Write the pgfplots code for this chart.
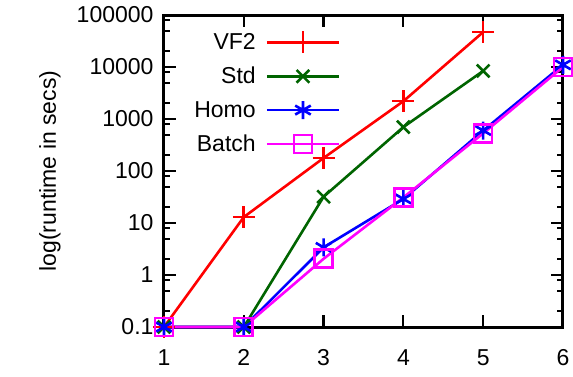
\documentclass[border=0pt]{standalone}
\usepackage{pgfplots}
\pgfplotsset{compat=1.18}
\usepackage{fontspec}
\setmainfont{Liberation Sans}
\definecolor{cred}{RGB}{255,0,0}
\definecolor{cgreen}{RGB}{0,100,0}
\definecolor{cblue}{RGB}{0,0,255}
\definecolor{cmag}{RGB}{255,0,255}
\begin{document}
\begin{tikzpicture}
\useasboundingbox (-164pt,-49pt) rectangle (409pt,327pt);
\begin{axis}[
  at={(0pt,0pt)}, anchor=south west,
  scale only axis,
  width=399pt, height=312pt,
  ymode=log,
  xmin=1, xmax=6, ymin=0.1, ymax=100000,
  xtick={1,2,3,4,5,6},
  ytick={0.1,1,10,100,1000,10000,100000},
  yticklabels={0.1,1,10,100,1000,10000,100000},
  minor ytick={0.2,0.5,0.8,2,5,8,20,50,80,200,500,800,2000,5000,8000,20000,50000,80000},
  tick align=inside,
  major tick length=12pt, minor tick length=6pt,
  every tick/.style={line width=2.2pt, black},
  axis line style={line width=3pt},
  ticklabel style={font=\fontsize{23}{27}\selectfont},
  /pgf/number format/assume math mode=true,
  xticklabel style={yshift=-19pt},
  yticklabel style={xshift=-7pt},
  ylabel={log(runtime in secs)},
  ylabel style={font=\fontsize{23}{27}\selectfont, at={(rel axis cs:-0.2857,0.5)}, anchor=center},
  clip=false,
  legend style={draw=none, fill=none, at={(rel axis cs:0.063,0.955)}, anchor=north west,
    font=\fontsize{23}{27}\selectfont, row sep=12pt, column sep=8pt},
  legend plot pos=right,
  legend cell align=right,
  legend image code/.code={
    \draw[mark repeat=2,mark phase=2] plot coordinates {(0pt,0pt) (36pt,0pt) (72pt,0pt)};
  },
]
\addplot[color=cred, line width=2.6pt, mark=+, mark size=11pt, mark options={solid, line width=2.6pt}] coordinates {(1,0.1) (2,13) (3,178) (4,2200) (5,47000)};
\addlegendentry{VF2}
\addplot[color=cgreen, line width=2.6pt, mark=x, mark size=9pt, mark options={solid, line width=2.6pt}] coordinates {(1,0.1) (2,0.1) (3,32) (4,700) (5,8400)};
\addlegendentry{Std}
\addplot[color=cblue, line width=2.6pt, mark=asterisk, mark size=9pt, mark options={solid, line width=2.6pt}] coordinates {(1,0.1) (2,0.1) (3,3.4) (4,29) (5,600) (6,11000)};
\addlegendentry{Homo}
\addplot[color=cmag, line width=2.6pt, mark=square, mark size=9pt, mark options={solid, line width=2.6pt}] coordinates {(1,0.1) (2,0.1) (3,2.05) (4,31) (5,530) (6,10000)};
\addlegendentry{Batch}
\end{axis}
\end{tikzpicture}
\end{document}
